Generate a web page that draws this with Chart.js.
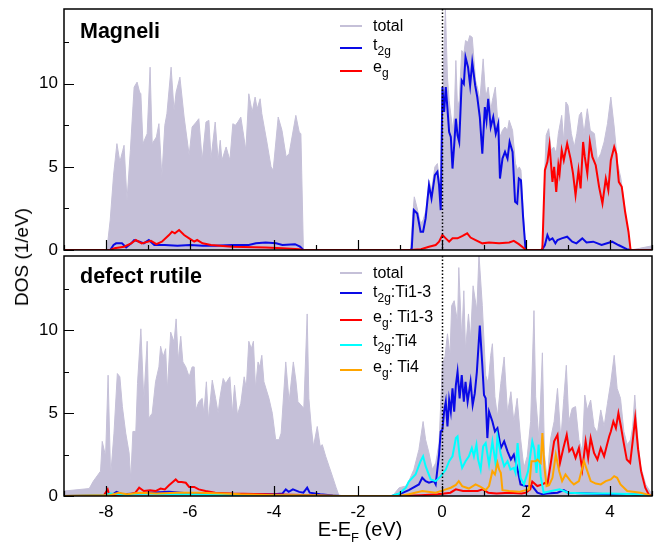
<!DOCTYPE html>
<html>
<head>
<meta charset="utf-8">
<script src="https://cdn.jsdelivr.net/npm/chart.js@4.4.1/dist/chart.umd.min.js"></script>
<style>
  body { margin: 0; background: #fff; font-family: "Liberation Sans", Arial, sans-serif; }
  #page { position: relative; width: 659px; height: 543px; overflow: hidden; }
  canvas { position: absolute; left: 0; }
  #topChart { top: 0; }
  #bottomChart { top: 252px; }
  .panel-name { position: absolute; left: 80px; font-weight: bold; font-size: 21.5px; line-height: 21px; }
  .leg-line { position: absolute; left: 340px; width: 22px; height: 2px; }
  .leg-text { position: absolute; left: 373px; font-size: 16px; line-height: 16px; white-space: nowrap; }
  .leg-text sub { font-size: 12px; vertical-align: -5px; line-height: 0; }
  #xTitle { position: absolute; left: 0; width: 720px; text-align: center; top: 518px; font-size: 20px; }
  #xTitle sub { font-size: 13px; vertical-align: -6px; line-height: 0; }
  #yTitle { position: absolute; left: 22px; top: 257px; font-size: 19px; white-space: nowrap;
            transform: translate(-50%, -50%) rotate(-90deg); }
</style>
</head>
<body>
<div id="page">
  <canvas id="topChart" width="659" height="262"></canvas>
  <canvas id="bottomChart" width="659" height="291"></canvas>

  <div class="panel-name" style="top:21px">Magneli</div>
  <div class="panel-name" style="top:266px">defect rutile</div>

  <div class="leg-line" style="top:25px;background:#c5c0d8"></div>
  <div class="leg-text" style="top:18px">total</div>
  <div class="leg-line" style="top:47px;background:#0a0ae6"></div>
  <div class="leg-text" style="top:37px">t<sub>2g</sub></div>
  <div class="leg-line" style="top:70px;background:#ff0000"></div>
  <div class="leg-text" style="top:59px">e<sub>g</sub></div>

  <div class="leg-line" style="top:272px;background:#c5c0d8"></div>
  <div class="leg-text" style="top:265px">total</div>
  <div class="leg-line" style="top:292px;background:#0a0ae6"></div>
  <div class="leg-text" style="top:284px">t<sub>2g</sub>:Ti1-3</div>
  <div class="leg-line" style="top:319px;background:#ff0000"></div>
  <div class="leg-text" style="top:309px">e<sub>g</sub>: Ti1-3</div>
  <div class="leg-line" style="top:344px;background:#00ffff"></div>
  <div class="leg-text" style="top:333px">t<sub>2g</sub>:Ti4</div>
  <div class="leg-line" style="top:369px;background:#ffa500"></div>
  <div class="leg-text" style="top:359px">e<sub>g</sub>: Ti4</div>

  <div id="xTitle">E-E<sub>F</sub> (eV)</div>
  <div id="yTitle">DOS (1/eV)</div>
</div>
<script>
// energy (eV) / DOS (1/eV) pairs
const magneliTotal = [
  [-9,0],[-7.98,0],[-7.9,1.8],[-7.82,4.5],[-7.74,6.4],[-7.67,5.3],[-7.6,6.0],[-7.57,6.3],[-7.5,3.0],[-7.42,6.0],
  [-7.33,9.8],[-7.26,10.1],[-7.2,9.5],[-7.17,9.4],[-7.12,6.4],[-7.02,7.0],[-6.95,11.0],[-6.9,6.4],[-6.8,6.8],[-6.74,7.6],
  [-6.67,4.4],[-6.6,7.5],[-6.55,8.2],[-6.45,11.0],[-6.38,8.4],[-6.33,9.5],[-6.24,10.4],[-6.14,8.0],[-6.02,5.7],[-5.95,7.4],
  [-5.85,7.7],[-5.79,7.9],[-5.71,5.4],[-5.62,7.7],[-5.55,7.8],[-5.5,5.5],[-5.4,7.7],[-5.33,5.4],[-5.28,6.6],[-5.24,5.4],
  [-5.14,6.2],[-5.05,5.4],[-4.98,7.6],[-4.92,7.5],[-4.86,7.7],[-4.79,8.0],[-4.67,6.0],[-4.6,9.4],[-4.52,8.3],[-4.45,9.2],
  [-4.4,8.5],[-4.33,9.1],[-4.29,8.2],[-4.17,6.5],[-4.07,5.0],[-4.02,4.8],[-3.9,8.0],[-3.81,7.2],[-3.71,5.6],[-3.64,5.8],
  [-3.48,8.1],[-3.4,7.1],[-3.36,7.0],[-3.3,0],
  [-0.75,0],[-0.7,2.0],[-0.66,3.2],[-0.6,2.6],[-0.51,1.6],[-0.45,1.8],[-0.38,2.4],[-0.31,4.2],[-0.25,3.6],[-0.17,5.0],
  [-0.11,5.2],[-0.05,4.0],[-0.02,3.0],[0.03,10.5],[0.08,14.6],[0.13,10.4],[0.17,9.0],[0.25,7.3],[0.29,8.0],[0.33,11.4],
  [0.37,8.5],[0.41,9.0],[0.47,12.0],[0.52,11.8],[0.56,12.6],[0.62,12.5],[0.66,12.9],[0.72,12.8],[0.8,10.2],[0.86,9.6],
  [0.9,9.0],[0.98,11.5],[1.04,9.2],[1.1,9.8],[1.16,8.4],[1.2,9.0],[1.27,9.8],[1.32,8.0],[1.38,6.8],[1.44,7.2],
  [1.5,7.4],[1.56,7.2],[1.6,7.8],[1.68,7.2],[1.75,5.2],[1.8,4.8],[1.84,5.0],[1.88,4.8],[1.93,2.5],[1.99,0],
  [2.36,0],[2.4,0.4],[2.45,5.0],[2.48,6.9],[2.54,7.3],[2.6,6.0],[2.66,6.2],[2.72,5.8],[2.77,7.0],[2.85,8.1],
  [2.9,6.5],[2.95,8.9],[3.0,8.7],[3.08,7.0],[3.15,6.2],[3.21,7.0],[3.27,8.1],[3.32,8.3],[3.38,7.0],[3.46,8.5],
  [3.53,7.2],[3.63,7.0],[3.7,5.4],[3.78,5.8],[3.86,6.5],[3.94,7.6],[4.02,9.2],[4.1,7.4],[4.18,5.2],[4.26,4.3],
  [4.34,2.8],[4.42,1.2],[4.5,0],[4.7,0.1],[5,0.25]
];
const magneliT2g = [
  [-9,0],[-7.9,0],[-7.82,0.3],[-7.76,0.4],[-7.62,0.4],[-7.52,0.15],[-7.4,0.4],[-7.33,0.6],[-7.2,0.5],[-7.1,0.4],
  [-6.98,0.6],[-6.85,0.3],[-6.6,0.3],[-6.3,0.25],[-6.0,0.3],[-5.7,0.25],[-5.4,0.25],[-5.0,0.3],[-4.6,0.3],[-4.43,0.4],
  [-4.2,0.45],[-3.95,0.4],[-3.8,0.3],[-3.5,0.35],[-3.38,0.2],[-3.3,0],
  [-0.75,0],[-0.72,0.1],[-0.67,2.4],[-0.59,2.2],[-0.51,1.1],[-0.45,1.1],[-0.39,1.9],[-0.31,3.9],[-0.25,3.1],[-0.17,4.5],
  [-0.11,4.7],[-0.07,3.9],[-0.03,2.4],[0.01,9.8],[0.05,8.3],[0.09,9.8],[0.13,8.5],[0.17,7.1],[0.21,6.8],[0.25,4.9],
  [0.29,6.3],[0.33,7.9],[0.37,6.9],[0.41,6.5],[0.47,10.2],[0.52,10.0],[0.56,11.6],[0.62,11.0],[0.67,9.9],[0.72,11.3],
  [0.79,9.9],[0.84,9.2],[0.9,8.0],[0.96,5.8],[1.02,8.6],[1.06,7.8],[1.1,9.1],[1.16,7.4],[1.22,8.0],[1.28,7.0],
  [1.34,7.6],[1.38,4.3],[1.44,5.5],[1.5,5.9],[1.56,5.5],[1.61,6.5],[1.68,5.9],[1.74,2.9],[1.79,2.8],[1.83,4.3],
  [1.88,4.2],[1.93,2.0],[1.99,0],
  [2.38,0],[2.45,0.3],[2.51,0.9],[2.56,0.6],[2.63,0.7],[2.7,0.4],[2.75,0.6],[2.85,0.7],[2.98,0.8],[3.1,0.5],
  [3.2,0.4],[3.34,0.7],[3.44,0.45],[3.6,0.5],[3.8,0.3],[4.05,0.5],[4.2,0.3],[4.4,0.05],[4.5,0],[5,0]
];
const magneliEg = [
  [-9,0],[-7.9,0],[-7.8,0.1],[-7.57,0.2],[-7.4,0.4],[-7.29,0.6],[-7.15,0.4],[-6.93,0.55],[-6.8,0.35],[-6.67,0.5],
  [-6.5,0.9],[-6.43,1.1],[-6.36,1.0],[-6.26,1.2],[-6.14,0.9],[-6.02,0.7],[-5.9,0.5],[-5.83,0.6],[-5.7,0.4],[-5.5,0.3],
  [-5.0,0.2],[-4.2,0.15],[-3.8,0.1],[-3.4,0.05],[-3.3,0],
  [-0.75,0],[-0.5,0.05],[-0.31,0.2],[-0.15,0.3],[-0.07,0.5],[0.01,0.9],[0.09,0.7],[0.17,0.5],[0.25,0.7],[0.37,0.7],
  [0.49,0.85],[0.6,1.0],[0.68,0.75],[0.8,0.6],[0.96,0.4],[1.12,0.45],[1.36,0.4],[1.6,0.45],[1.71,0.55],[1.83,0.35],
  [1.93,0.15],[2.0,0],
  [2.36,0],[2.39,0.1],[2.45,4.8],[2.51,5.3],[2.56,6.3],[2.63,4.1],[2.67,5.0],[2.72,3.5],[2.77,5.1],[2.8,4.6],
  [2.85,6.0],[2.9,5.4],[2.98,6.4],[3.06,5.5],[3.12,4.6],[3.18,3.3],[3.25,4.8],[3.3,3.7],[3.36,6.5],[3.4,5.6],
  [3.46,4.6],[3.52,6.5],[3.58,5.6],[3.66,5.1],[3.74,3.8],[3.82,2.8],[3.9,4.3],[3.96,3.6],[4.02,5.4],[4.1,6.2],
  [4.15,5.8],[4.21,4.1],[4.28,3.8],[4.36,2.3],[4.44,1.1],[4.49,0],[5,0]
];

const rutileTotal = [
  [-9,0.3],[-8.4,0.45],[-8.3,0.9],[-8.13,1.5],[-8.09,3.3],[-8.01,2.4],[-7.95,7.3],[-7.89,1.2],[-7.81,3.8],[-7.73,7.4],
  [-7.67,7.2],[-7.61,5.4],[-7.53,3.8],[-7.45,2.6],[-7.41,1.0],[-7.36,3.9],[-7.29,3.9],[-7.25,6.8],[-7.17,10.1],[-7.1,5.8],
  [-7.02,9.35],[-6.98,4.7],[-6.9,5.0],[-6.82,6.9],[-6.74,7.8],[-6.7,9.05],[-6.64,8.4],[-6.58,8.9],[-6.54,6.4],[-6.46,9.9],
  [-6.38,9.3],[-6.33,10.7],[-6.28,8.2],[-6.22,9.65],[-6.17,8.1],[-6.1,7.8],[-6.02,7.2],[-5.95,7.8],[-5.9,7.8],[-5.86,5.2],
  [-5.79,5.7],[-5.71,5.9],[-5.67,5.0],[-5.61,6.9],[-5.56,4.6],[-5.47,7.0],[-5.39,5.9],[-5.33,5.0],[-5.29,5.9],[-5.21,7.1],
  [-5.15,6.8],[-5.05,7.2],[-4.99,5.0],[-4.94,6.7],[-4.87,4.9],[-4.79,5.6],[-4.71,7.2],[-4.66,6.5],[-4.6,9.35],[-4.54,8.9],
  [-4.49,9.35],[-4.44,6.5],[-4.38,8.1],[-4.34,7.8],[-4.29,8.5],[-4.24,6.9],[-4.12,5.9],[-4.04,5.0],[-3.96,3.4],[-3.88,3.4],
  [-3.83,3.8],[-3.72,8.1],[-3.64,5.7],[-3.54,8.1],[-3.48,7.0],[-3.43,5.7],[-3.36,5.5],[-3.29,5.3],[-3.21,11.0],[-3.17,5.9],
  [-3.11,4.1],[-3.06,3.0],[-2.97,4.2],[-2.9,3.0],[-2.85,3.1],[-2.77,2.4],[-2.69,1.8],[-2.61,1.2],[-2.52,0.5],[-2.45,0],
  [-1.18,0],[-1.02,0.5],[-0.86,0.6],[-0.79,0.9],[-0.67,1.6],[-0.55,2.8],[-0.45,4.5],[-0.39,3.4],[-0.31,2.6],[-0.23,1.6],
  [-0.15,2.0],[-0.07,3.2],[0.01,8.0],[0.07,8.4],[0.13,9.8],[0.19,8.5],[0.23,11.5],[0.29,11.8],[0.37,10.5],[0.4,13.8],
  [0.47,9.5],[0.52,12.4],[0.56,8.8],[0.63,11.0],[0.68,9.5],[0.74,12.7],[0.83,11.2],[0.88,14.6],[0.96,11.5],[1.04,7.3],
  [1.1,6.8],[1.16,8.5],[1.2,9.2],[1.26,6.0],[1.32,4.8],[1.4,6.8],[1.48,8.4],[1.56,5.0],[1.64,6.3],[1.71,4.5],
  [1.79,5.9],[1.87,3.5],[1.95,1.7],[2.03,2.4],[2.11,4.5],[2.19,11.2],[2.23,6.0],[2.31,3.4],[2.39,8.65],[2.44,2.5],
  [2.51,0.9],[2.55,2.5],[2.59,3.5],[2.67,4.5],[2.75,6.5],[2.83,3.4],[2.9,5.9],[2.96,7.9],[3.02,4.5],[3.1,5.3],
  [3.18,5.4],[3.26,3.4],[3.34,2.7],[3.4,6.1],[3.46,5.2],[3.54,5.8],[3.62,4.2],[3.7,3.8],[3.78,5.2],[3.86,4.2],
  [3.94,5.6],[4.02,6.9],[4.1,8.5],[4.17,6.5],[4.25,5.9],[4.33,3.9],[4.41,3.1],[4.49,3.4],[4.54,4.2],[4.59,6.1],
  [4.67,3.2],[4.73,1.8],[4.85,0.7],[5,0.1]
];
const rutileT2gTi13 = [
  [-9,0],[-7.9,0],[-7.75,0.25],[-7.6,0.1],[-7.3,0.15],[-7.0,0.2],[-6.5,0.25],[-6.0,0.15],[-5.5,0.15],[-5.0,0.1],
  [-4.5,0.1],[-4.0,0.1],[-3.8,0.15],[-3.72,0.4],[-3.65,0.25],[-3.55,0.4],[-3.4,0.25],[-3.3,0.2],[-3.21,0.5],[-3.15,0.2],
  [-2.9,0.1],[-2.6,0.03],[-2.4,0],
  [-1.2,0],[-1.02,0.1],[-0.79,0.36],[-0.55,0.7],[-0.47,1.1],[-0.39,0.9],[-0.31,0.8],[-0.19,0.9],[-0.15,0.7],[-0.07,2.5],
  [-0.03,3.9],[0.01,4.0],[0.05,5.1],[0.09,5.7],[0.13,4.2],[0.17,5.8],[0.21,5.1],[0.25,6.5],[0.29,5.1],[0.33,6.7],
  [0.37,7.5],[0.42,5.9],[0.47,7.3],[0.52,5.7],[0.56,6.9],[0.61,5.7],[0.68,6.9],[0.73,5.5],[0.78,6.2],[0.83,7.5],
  [0.9,10.3],[0.96,7.9],[1.0,6.1],[1.04,5.9],[1.08,3.5],[1.12,5.1],[1.2,4.5],[1.26,3.9],[1.32,4.1],[1.4,2.9],
  [1.48,3.3],[1.56,2.7],[1.64,2.2],[1.71,2.5],[1.79,1.7],[1.87,0.7],[1.99,0.6],[2.15,0.6],[2.27,0.2],[2.39,0.1],
  [2.5,0.15],[2.75,0.2],[2.9,0.36],[3.0,0.2],[3.5,0.15],[4.0,0.1],[4.5,0.1],[4.8,0.05],[5,0]
];
const rutileEgTi13 = [
  [-9,0],[-8.05,0.05],[-7.96,0.4],[-7.92,0.05],[-7.5,0.05],[-7.3,0.2],[-7.21,0.5],[-7.1,0.3],[-6.95,0.35],[-6.82,0.3],
  [-6.7,0.45],[-6.6,0.4],[-6.5,0.65],[-6.43,0.8],[-6.34,1.0],[-6.28,0.85],[-6.2,0.85],[-6.1,0.8],[-6.02,0.55],[-5.9,0.55],
  [-5.79,0.4],[-5.63,0.3],[-5.4,0.2],[-5.0,0.15],[-4.2,0.1],[-3.0,0.05],[-2.5,0],
  [-1.0,0],[-0.5,0.05],[-0.1,0.1],[0.2,0.2],[0.33,0.4],[0.5,0.3],[0.7,0.3],[0.85,0.3],[0.97,0.4],[1.1,0.2],
  [1.3,0.15],[1.6,0.2],[1.9,0.15],[2.0,0.2],[2.1,0.4],[2.15,0.87],[2.27,0.6],[2.39,0.7],[2.46,0.8],[2.51,0.7],
  [2.56,1.5],[2.61,2.3],[2.67,3.3],[2.75,3.7],[2.81,2.0],[2.89,2.9],[2.97,3.7],[3.03,2.7],[3.1,2.9],[3.18,2.3],
  [3.26,2.9],[3.34,1.6],[3.42,3.3],[3.48,2.3],[3.54,3.5],[3.62,2.6],[3.7,2.2],[3.78,2.9],[3.86,2.4],[3.92,3.0],
  [3.98,3.6],[4.02,3.9],[4.08,4.5],[4.14,4.1],[4.2,5.0],[4.26,4.2],[4.32,3.3],[4.4,2.2],[4.48,2.0],[4.54,3.3],
  [4.6,4.7],[4.67,2.8],[4.74,1.5],[4.84,0.5],[4.92,0.1],[5,0]
];
const rutileT2gTi4 = [
  [-9,0],[-8.0,0.05],[-7.9,0.15],[-7.5,0.05],[-7.2,0.15],[-6.5,0.1],[-6.0,0.1],[-5.0,0.05],[-4.0,0.03],[-3.0,0.02],
  [-2.4,0],
  [-1.2,0],[-1.02,0.15],[-0.86,0.5],[-0.79,0.87],[-0.63,1.3],[-0.51,2.1],[-0.45,2.4],[-0.39,1.8],[-0.27,1.0],[-0.15,0.9],
  [-0.03,1.2],[0.09,1.6],[0.17,2.1],[0.25,2.4],[0.33,3.5],[0.37,3.6],[0.42,2.4],[0.48,1.7],[0.56,2.1],[0.64,2.4],
  [0.71,2.9],[0.76,2.4],[0.82,3.1],[0.86,2.2],[0.92,1.6],[0.98,3.0],[1.04,3.2],[1.12,1.9],[1.2,3.3],[1.28,1.9],
  [1.32,3.6],[1.4,2.5],[1.48,1.8],[1.56,2.1],[1.63,1.6],[1.71,1.7],[1.75,1.4],[1.8,3.2],[1.87,1.1],[1.95,0.7],
  [2.05,1.5],[2.15,3.3],[2.2,2.8],[2.25,1.4],[2.3,3.1],[2.35,1.2],[2.42,0.2],[2.6,0.3],[2.8,0.4],[3.0,0.2],
  [3.5,0.15],[4.0,0.15],[4.6,0.1],[5,0]
];
const rutileEgTi4 = [
  [-9,0],[-7.9,0.05],[-7.7,0.2],[-7.5,0.1],[-7.2,0.2],[-6.8,0.15],[-6.3,0.2],[-5.8,0.2],[-5.2,0.15],[-4.8,0.1],
  [-4.0,0.05],[-3.0,0.03],[-2.4,0],
  [-1.0,0],[-0.79,0.1],[-0.47,0.3],[-0.15,0.2],[0.09,0.4],[0.21,0.5],[0.33,0.67],[0.4,0.9],[0.48,0.6],[0.64,0.45],
  [0.8,0.7],[0.92,0.55],[1.04,0.35],[1.12,0.6],[1.2,1.5],[1.26,1.3],[1.32,2.0],[1.36,1.6],[1.4,1.4],[1.44,0.35],
  [1.6,0.3],[1.83,0.25],[2.07,0.4],[2.13,2.1],[2.23,2.1],[2.27,2.2],[2.35,2.0],[2.39,3.8],[2.44,1.7],[2.49,0.6],
  [2.55,0.65],[2.63,1.1],[2.71,2.5],[2.79,1.5],[2.86,0.9],[2.94,1.3],[3.06,0.9],[3.14,0.7],[3.26,0.9],[3.38,2.1],
  [3.46,1.5],[3.54,0.9],[3.66,0.75],[3.78,0.7],[3.9,0.9],[4.02,1.0],[4.1,1.2],[4.17,1.1],[4.25,0.7],[4.41,0.3],
  [4.73,0.2],[4.88,0.1],[5,0]
];

const X_MIN = -9, X_MAX = 5, Y_MAX = 14.5;
const X_LABELS = [-8, -6, -4, -2, 0, 2, 4];
const X_MINOR = [-9, -7, -5, -3, -1, 1, 3, 5];
const Y_LABELS = [0, 5, 10];
const Y_MINOR = [2.5, 7.5, 12.5];

const TOTAL_FILL = '#c5c0d8';
const FONT = { family: '"Liberation Sans", Arial, sans-serif', size: 17 };

// frame, inward ticks and the dotted Fermi level line
const framePlugin = {
  id: 'frame',
  afterDatasetsDraw(chart) {
    const { ctx, chartArea: a, scales: { x, y } } = chart;
    ctx.save();
    ctx.strokeStyle = '#000';

    ctx.lineWidth = 1.5;
    ctx.setLineDash([1.5, 2]);
    const x0 = Math.round(x.getPixelForValue(0)) + 0.5;
    ctx.beginPath();
    ctx.moveTo(x0, a.top);
    ctx.lineTo(x0, a.bottom);
    ctx.stroke();
    ctx.setLineDash([]);

    ctx.lineWidth = 1.2;
    ctx.beginPath();
    const tick = (values, len, horizontal) => {
      values.forEach((v) => {
        if (horizontal) {
          const px = Math.round(x.getPixelForValue(v)) + 0.5;
          ctx.moveTo(px, a.bottom);
          ctx.lineTo(px, a.bottom - len);
        } else {
          const py = Math.round(y.getPixelForValue(v)) + 0.5;
          ctx.moveTo(a.left, py);
          ctx.lineTo(a.left + len, py);
        }
      });
    };
    tick(X_LABELS, 10, true);
    tick(X_MINOR, 5, true);
    tick(Y_LABELS, 10, false);
    tick(Y_MINOR, 5, false);
    ctx.stroke();

    ctx.lineWidth = 1.5;
    ctx.strokeRect(a.left, a.top, a.right - a.left, a.bottom - a.top);
    ctx.restore();
  },
};

function totalSet(data) {
  return {
    data, fill: 'origin', backgroundColor: TOTAL_FILL, borderColor: TOTAL_FILL,
    borderWidth: 1, order: 10,
  };
}

function lineSet(data, color, order) {
  return { data, fill: false, borderColor: color, borderWidth: 2, order };
}

// keep the plot box where the figure has it: no extra room for edge labels
function noEdgePadding(scale) {
  scale.paddingTop = 0;
  scale.paddingBottom = 0;
  scale.paddingLeft = 0;
  scale.paddingRight = 0;
}

function makeChart(id, datasets, { padTop, padBottom, showX, xHeight }) {
  return new Chart(document.getElementById(id), {
    type: 'line',
    data: { datasets },
    options: {
      responsive: false,
      animation: false,
      events: [],
      layout: { padding: { top: padTop, right: 7, bottom: padBottom, left: 0 } },
      elements: { point: { radius: 0 }, line: { tension: 0 } },
      plugins: { legend: { display: false }, tooltip: { enabled: false } },
      scales: {
        x: {
          type: 'linear', min: X_MIN, max: X_MAX, display: showX,
          grid: { display: false, drawTicks: false }, border: { display: false },
          afterBuildTicks(scale) { scale.ticks = X_LABELS.map((value) => ({ value })); },
          afterFit(scale) { scale.height = xHeight; noEdgePadding(scale); },
          ticks: { color: '#000', font: FONT, padding: 6, maxRotation: 0 },
        },
        y: {
          min: 0, max: Y_MAX,
          grid: { display: false, drawTicks: false }, border: { display: false },
          afterBuildTicks(scale) { scale.ticks = Y_LABELS.map((value) => ({ value })); },
          afterFit(scale) { scale.width = 64; noEdgePadding(scale); },
          ticks: { color: '#000', font: FONT, padding: 6 },
        },
      },
    },
    plugins: [framePlugin],
  });
}

makeChart('topChart', [
  totalSet(magneliTotal),
  lineSet(magneliT2g, '#0a0ae6', 2),
  lineSet(magneliEg, '#ff0000', 1),
], { padTop: 9, padBottom: 12, showX: false, xHeight: 0 });

makeChart('bottomChart', [
  totalSet(rutileTotal),
  lineSet(rutileT2gTi13, '#0a0ae6', 4),
  lineSet(rutileEgTi13, '#ff0000', 3),
  lineSet(rutileT2gTi4, '#00ffff', 2),
  lineSet(rutileEgTi4, '#ffa500', 1),
], { padTop: 4, padBottom: 0, showX: true, xHeight: 47 });
</script>
</body>
</html>
